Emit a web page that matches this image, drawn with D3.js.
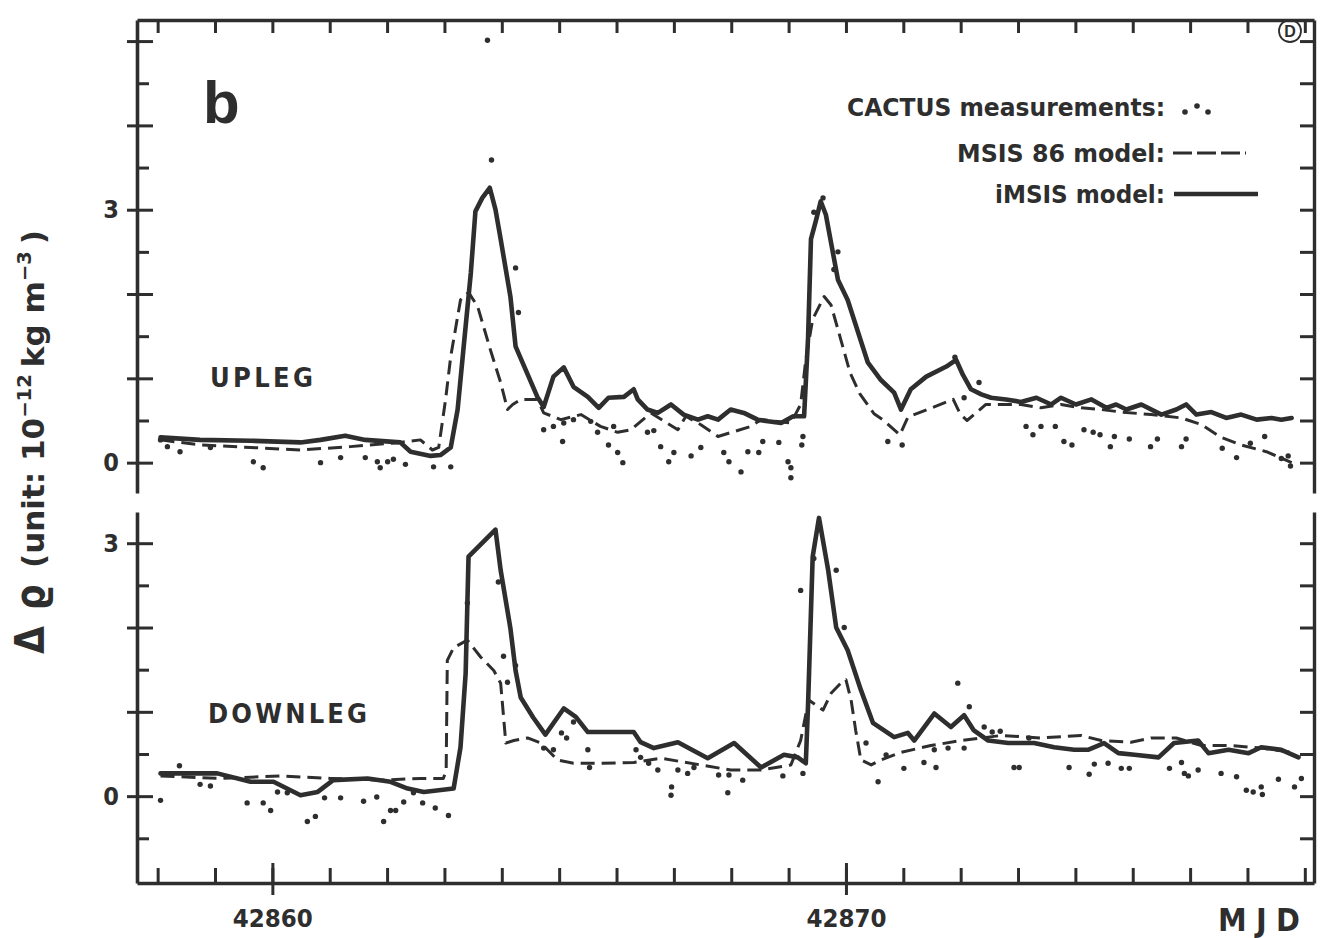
<!DOCTYPE html>
<html>
<head>
<meta charset="utf-8">
<script src="https://cdn.jsdelivr.net/npm/d3@7"></script>
<style>
  html, body { margin: 0; padding: 0; background: #fff; }
  svg { display: block; }
  .cond { font-family: "DejaVu Sans Condensed", "Liberation Sans Narrow", "Roboto Condensed", Roboto, sans-serif; font-stretch: condensed; }
</style>
</head>
<body>
<svg id="chart" width="1324" height="938"></svg>
<script>
// ---- data: density differences (10^-12 kg m^-3) vs. Modified Julian Day ----
const mjdTicks = d3.range(42858, 42879);
const mjdLabels = [42860, 42870];
const uplegTicks = [0, 0.5, 1, 1.5, 2, 2.5, 3, 3.5, 4, 4.5, 5];
const downlegTicks = [-0.5, 0, 0.5, 1, 1.5, 2, 2.5, 3];
const densityLabels = [0, 3];

const uplegIMSIS = [
  [42858.05,0.30],[42858.74,0.27],[42859.62,0.26],[42860.49,0.24],[42860.84,0.27],[42861.27,0.32],
  [42861.62,0.27],[42862.23,0.24],[42862.41,0.13],[42862.76,0.08],[42862.93,0.09],[42863.11,0.18],
  [42863.23,0.63],[42863.33,1.34],[42863.46,2.25],[42863.54,2.98],[42863.66,3.14],[42863.79,3.26],
  [42863.89,3.00],[42863.98,2.65],[42864.15,1.97],[42864.24,1.38],[42864.36,1.19],[42864.62,0.78],
  [42864.73,0.66],[42864.90,1.02],[42865.08,1.13],[42865.25,0.90],[42865.50,0.78],[42865.69,0.65],
  [42865.86,0.77],[42866.13,0.78],[42866.30,0.87],[42866.37,0.75],[42866.54,0.63],[42866.72,0.59],
  [42866.95,0.69],[42867.17,0.57],[42867.42,0.51],[42867.59,0.55],[42867.77,0.51],[42867.99,0.63],
  [42868.22,0.59],[42868.46,0.51],[42868.64,0.49],[42868.87,0.47],[42869.08,0.55],[42869.27,0.55],
  [42869.34,1.49],[42869.39,2.65],[42869.48,2.88],[42869.56,3.10],[42869.65,2.94],[42869.74,2.61],
  [42869.86,2.17],[42870.03,1.93],[42870.38,1.19],[42870.61,0.98],[42870.84,0.83],[42870.96,0.63],
  [42871.13,0.87],[42871.40,1.02],[42871.75,1.14],[42871.92,1.22],[42872.04,1.04],[42872.18,0.87],
  [42872.36,0.81],[42872.53,0.77],[42872.79,0.75],[42873.05,0.72],[42873.32,0.77],[42873.58,0.69],
  [42873.75,0.77],[42874.01,0.69],[42874.28,0.75],[42874.54,0.65],[42874.71,0.69],[42874.89,0.63],
  [42875.15,0.69],[42875.50,0.57],[42875.76,0.63],[42875.93,0.69],[42876.11,0.57],[42876.37,0.60],
  [42876.63,0.53],[42876.89,0.57],[42877.16,0.51],[42877.42,0.53],[42877.59,0.51],[42877.77,0.53]
];

const uplegMSIS86 = [
  [42858.05,0.27],[42858.74,0.21],[42859.62,0.18],[42860.49,0.15],[42861.36,0.19],[42862.23,0.24],
  [42862.58,0.27],[42862.79,0.15],[42862.90,0.18],[42863.02,0.75],[42863.11,1.26],[42863.28,1.93],
  [42863.42,2.02],[42863.58,1.85],[42863.80,1.34],[42863.98,0.95],[42864.10,0.63],[42864.19,0.69],
  [42864.33,0.75],[42864.62,0.75],[42864.73,0.59],[42865.03,0.51],[42865.38,0.57],[42865.72,0.43],
  [42866.02,0.36],[42866.25,0.39],[42866.60,0.59],[42867.07,0.39],[42867.21,0.55],[42867.47,0.45],
  [42867.77,0.31],[42868.34,0.43],[42868.52,0.51],[42869.04,0.47],[42869.21,0.69],[42869.30,1.22],
  [42869.42,1.70],[42869.62,1.97],[42869.74,1.87],[42869.91,1.46],[42870.07,1.07],[42870.24,0.82],
  [42870.49,0.58],[42870.66,0.50],[42870.94,0.33],[42871.08,0.54],[42871.87,0.75],[42871.99,0.58],
  [42872.11,0.50],[42872.44,0.69],[42872.71,0.69],[42873.05,0.69],[42873.40,0.65],[42873.75,0.69],
  [42874.10,0.65],[42874.45,0.63],[42874.80,0.60],[42875.32,0.57],[42875.85,0.53],[42876.20,0.45],
  [42876.54,0.30],[42876.89,0.21],[42877.33,0.13],[42877.77,0.00]
];

const uplegCactus = [
  [42863.75,5.01],[42863.82,3.59],[42864.24,2.31],[42864.29,1.78],[42864.73,0.39],
  [42858.05,0.27],[42858.17,0.19],[42858.39,0.13],[42858.92,0.18],[42859.67,0.01],[42859.84,-0.06],
  [42860.84,0.00],[42861.19,0.06],[42861.62,0.06],[42861.83,0.01],[42861.88,-0.06],[42862.01,0.01],
  [42862.11,0.04],[42862.32,-0.02],[42862.81,-0.05],[42863.11,-0.05],
  [42865.06,0.25],[42864.90,0.43],[42865.08,0.47],[42865.25,0.51],[42865.55,0.49],[42865.67,0.36],
  [42865.86,0.21],[42865.95,0.43],[42866.02,0.12],[42866.11,0.00],[42866.54,0.36],[42866.65,0.38],
  [42866.77,0.19],[42866.91,0.01],[42867.00,0.12],[42867.30,0.08],[42867.47,0.18],[42867.87,0.12],
  [42867.96,0.01],[42868.17,-0.11],[42868.29,0.13],[42868.48,0.12],[42868.55,0.25],[42868.83,0.24],
  [42868.99,0.01],[42869.04,-0.06],[42869.25,0.31],[42869.23,0.21],[42869.04,-0.18],
  [42869.44,2.97],[42869.60,3.14],[42869.86,2.50],[42869.79,2.29],
  [42870.73,0.25],[42870.98,0.21],[42871.90,1.25],[42872.32,0.95],[42872.06,0.77],
  [42873.14,0.43],[42873.40,0.43],[42873.65,0.43],[42873.26,0.33],[42873.80,0.25],[42873.94,0.21],
  [42874.15,0.39],[42874.31,0.36],[42874.43,0.33],[42874.68,0.31],[42874.61,0.19],[42874.94,0.28],
  [42875.31,0.19],[42875.43,0.28],[42875.85,0.19],[42875.93,0.28],[42876.56,0.17],[42876.81,0.06],
  [42877.05,0.23],[42877.30,0.31],[42877.59,0.05],[42877.75,-0.04],[42877.71,0.08]
];

const downlegIMSIS = [
  [42858.05,0.27],[42859.04,0.27],[42859.62,0.17],[42860.02,0.17],[42860.49,0.01],[42860.79,0.05],
  [42861.06,0.19],[42861.66,0.21],[42862.06,0.17],[42862.36,0.09],[42862.64,0.05],[42863.16,0.09],
  [42863.28,0.58],[42863.37,1.46],[42863.40,2.29],[42863.42,2.84],[42863.89,3.16],[42863.98,2.68],
  [42864.15,1.99],[42864.24,1.49],[42864.33,1.17],[42864.55,0.93],[42864.76,0.73],[42865.08,1.04],
  [42865.29,0.94],[42865.50,0.76],[42866.30,0.76],[42866.42,0.64],[42866.65,0.57],[42867.07,0.64],
  [42867.59,0.45],[42868.05,0.63],[42868.52,0.34],[42868.92,0.49],[42869.16,0.46],[42869.30,0.39],
  [42869.34,1.10],[42869.42,2.84],[42869.53,3.30],[42869.69,2.68],[42869.83,2.00],[42870.03,1.73],
  [42870.26,1.26],[42870.47,0.87],[42870.84,0.70],[42871.08,0.75],[42871.19,0.66],[42871.54,0.98],
  [42871.83,0.82],[42872.06,0.96],[42872.23,0.78],[42872.48,0.66],[42872.83,0.63],[42873.28,0.63],
  [42873.63,0.58],[42873.98,0.55],[42874.22,0.55],[42874.50,0.63],[42874.75,0.51],[42875.03,0.49],
  [42875.45,0.46],[42875.72,0.63],[42876.14,0.66],[42876.32,0.51],[42876.67,0.55],[42877.02,0.51],
  [42877.24,0.58],[42877.59,0.55],[42877.89,0.46]
];

const downlegMSIS86 = [
  [42858.05,0.24],[42859.09,0.21],[42860.14,0.24],[42861.01,0.21],[42861.88,0.19],[42862.58,0.21],
  [42862.98,0.21],[42863.03,0.30],[42863.05,1.61],[42863.16,1.76],[42863.40,1.85],[42863.63,1.65],
  [42863.86,1.49],[42863.98,1.34],[42864.07,0.63],[42864.21,0.66],[42864.45,0.69],[42864.68,0.63],
  [42864.97,0.43],[42865.25,0.39],[42865.72,0.39],[42866.30,0.40],[42866.77,0.45],[42867.47,0.37],
  [42867.99,0.31],[42868.52,0.31],[42869.04,0.37],[42869.21,0.66],[42869.35,1.14],[42869.48,1.08],
  [42869.60,1.02],[42869.74,1.22],[42869.91,1.34],[42870.00,1.38],[42870.09,1.14],[42870.17,0.78],
  [42870.26,0.43],[42870.44,0.37],[42870.61,0.43],[42870.96,0.52],[42871.48,0.60],[42872.01,0.66],
  [42872.71,0.72],[42873.40,0.69],[42874.10,0.72],[42874.45,0.66],[42874.97,0.64],[42875.32,0.69],
  [42875.76,0.69],[42876.20,0.60],[42876.72,0.60],[42877.24,0.57],[42877.77,0.52]
];

const downlegCactus = [
  [42858.38,0.36],[42858.05,-0.05],[42858.74,0.14],[42858.92,0.12],[42859.56,-0.08],[42859.84,-0.08],
  [42859.97,-0.17],[42860.09,0.05],[42860.26,0.04],[42860.61,-0.30],[42860.75,-0.24],[42860.91,-0.02],
  [42861.19,-0.02],[42861.59,-0.06],[42861.82,-0.01],[42861.94,-0.30],[42862.06,-0.17],[42862.15,-0.17],
  [42862.29,-0.07],[42862.46,0.04],[42862.62,-0.08],[42862.84,-0.14],[42863.07,-0.23],
  [42863.40,2.29],[42863.94,2.54],[42864.03,1.66],[42864.10,1.35],[42864.24,1.55],
  [42864.73,0.57],[42864.90,0.55],[42865.04,0.75],[42865.13,0.69],[42865.25,0.88],[42865.50,0.55],
  [42865.53,0.34],[42866.34,0.55],[42866.42,0.46],[42866.56,0.39],[42866.72,0.31],[42866.96,0.11],
  [42866.95,0.01],[42867.07,0.31],[42867.24,0.27],[42867.35,0.34],[42867.78,0.25],[42867.96,0.25],
  [42868.20,0.19],[42867.94,0.04],[42868.90,0.24],[42869.25,0.27],
  [42869.21,2.44],[42869.44,2.82],[42869.83,2.68],[42869.97,2.00],
  [42870.35,0.63],[42870.56,0.17],[42870.70,0.49],[42871.01,0.33],[42871.36,0.40],[42871.57,0.34],
  [42871.54,0.55],[42871.78,0.57],[42871.95,1.34],[42872.15,1.06],[42872.06,0.57],[42872.41,0.82],
  [42872.55,0.76],[42872.69,0.77],[42873.19,0.69],[42872.93,0.34],[42873.02,0.34],[42873.89,0.34],
  [42874.24,0.26],[42874.33,0.38],[42874.57,0.39],[42874.80,0.33],[42874.94,0.33],[42875.64,0.33],
  [42875.85,0.40],[42875.90,0.27],[42875.97,0.24],[42876.14,0.31],[42876.54,0.27],[42876.81,0.23],
  [42876.98,0.07],[42877.10,0.05],[42877.24,0.11],[42877.26,0.02],[42877.54,0.20],[42877.82,0.11],
  [42877.94,0.21]
];

// ---- layout ----
const ink = '#2e2e2e';
const svg = d3.select('#chart');
const X0 = 137, X1 = 1314;
const upTop = 20, upBot = 493, loTop = 512, loBot = 883;

const x = d3.scaleLinear().domain([42857.64, 42878.16]).range([X0, X1]);
const yUp = d3.scaleLinear().domain([-0.36, 5.25]).range([upBot, upTop]);
const yLo = d3.scaleLinear().domain([-1.03, 3.37]).range([loBot, loTop]);

function inkAxis(g, domainWidth) {
  g.select('.domain').attr('stroke', ink).attr('stroke-width', domainWidth);
  g.selectAll('.tick line').attr('stroke', ink).attr('stroke-width', 3);
  g.selectAll('.tick text').attr('fill', ink);
}
function noDomain(g) { g.select('.domain').remove(); }

// ---- frame: top and bottom time axes ----
svg.append('g').attr('transform', `translate(0,${upTop})`)
  .call(d3.axisBottom(x).tickValues(mjdTicks).tickSize(13).tickSizeOuter(0).tickFormat(''))
  .call(g => inkAxis(g, 3.4));

svg.append('g').attr('transform', `translate(0,${loBot})`)
  .call(d3.axisTop(x).tickValues(mjdTicks).tickSize(15).tickSizeOuter(0).tickFormat(''))
  .call(g => inkAxis(g, 3.6));

// labelled days: ticks crossing the bottom line
svg.append('g').attr('transform', `translate(0,${loBot})`)
  .call(d3.axisTop(x).tickValues(mjdLabels).tickSize(20).tickFormat(''))
  .call(noDomain).call(g => inkAxis(g, 0));
svg.append('g').attr('transform', `translate(0,${loBot})`)
  .call(d3.axisBottom(x).tickValues(mjdLabels).tickSize(12).tickPadding(11).tickFormat(d3.format('d')))
  .call(noDomain)
  .call(g => inkAxis(g, 0))
  .call(g => g.selectAll('.tick text')
    .attr('class', 'cond').attr('font-size', 25).attr('font-weight', 'bold')
    .attr('textLength', 80).attr('lengthAdjust', 'spacingAndGlyphs').attr('dy', '0.85em'));

// ---- vertical axes for each panel ----
function panelAxes(y, ticks) {
  const majors = ticks.filter(t => Number.isInteger(t));
  const minors = ticks.filter(t => !Number.isInteger(t));
  // left border with inward ticks
  svg.append('g').attr('transform', `translate(${X0},0)`)
    .call(d3.axisRight(y).tickValues(minors).tickSize(12).tickSizeOuter(0).tickFormat(''))
    .call(g => inkAxis(g, 3.6));
  svg.append('g').attr('transform', `translate(${X0},0)`)
    .call(d3.axisRight(y).tickValues(majors).tickSize(16).tickFormat(''))
    .call(noDomain).call(g => inkAxis(g, 0));
  // outward major ticks with labels
  svg.append('g').attr('transform', `translate(${X0},0)`)
    .call(d3.axisLeft(y).tickValues(majors).tickSize(10).tickPadding(8)
      .tickFormat(d => densityLabels.includes(d) ? d : ''))
    .call(noDomain).call(g => inkAxis(g, 0))
    .call(g => g.selectAll('.tick text').attr('class', 'cond')
      .attr('font-size', 25).attr('font-weight', 'bold'));
  // right border with inward ticks
  svg.append('g').attr('transform', `translate(${X1},0)`)
    .call(d3.axisLeft(y).tickValues(ticks).tickSize(14).tickSizeOuter(0).tickFormat(''))
    .call(g => inkAxis(g, 3.4));
}
panelAxes(yUp, uplegTicks);
panelAxes(yLo, downlegTicks);

// ---- series ----
function drawPanel(y, imsis, msis86, cactus) {
  const line = d3.line().x(d => x(d[0])).y(d => y(d[1]));
  svg.append('path').datum(msis86).attr('d', line)
    .attr('fill', 'none').attr('stroke', ink).attr('stroke-width', 3)
    .attr('stroke-dasharray', '14,7').attr('stroke-linejoin', 'round');
  svg.append('path').datum(imsis).attr('d', line)
    .attr('fill', 'none').attr('stroke', ink).attr('stroke-width', 4.6)
    .attr('stroke-linejoin', 'round').attr('stroke-linecap', 'round');
  svg.append('g').selectAll('circle').data(cactus).join('circle')
    .attr('cx', d => x(d[0])).attr('cy', d => y(d[1])).attr('r', 2.7).attr('fill', ink);
}
drawPanel(yUp, uplegIMSIS, uplegMSIS86, uplegCactus);
drawPanel(yLo, downlegIMSIS, downlegMSIS86, downlegCactus);

// ---- annotations ----
svg.append('text').attr('x', 203).attr('y', 123)
  .attr('font-family', '"Liberation Sans", Arial, sans-serif').attr('font-weight', 'bold')
  .attr('font-size', 60).attr('fill', ink).text('b');

svg.append('text').attr('class', 'cond').attr('x', 210).attr('y', 387)
  .attr('font-size', 27).attr('font-weight', 'bold').attr('fill', ink)
  .attr('textLength', 103).attr('lengthAdjust', 'spacing').text('UPLEG');
svg.append('text').attr('class', 'cond').attr('x', 208).attr('y', 723)
  .attr('font-size', 27).attr('font-weight', 'bold').attr('fill', ink)
  .attr('textLength', 159).attr('lengthAdjust', 'spacing').text('DOWNLEG');

svg.append('text').attr('class', 'cond').attr('x', 1218).attr('y', 931)
  .attr('font-size', 32).attr('font-weight', 'bold').attr('fill', ink)
  .attr('textLength', 82).attr('lengthAdjust', 'spacing').text('MJD');

// circled D mark
svg.append('circle').attr('cx', 1290).attr('cy', 31).attr('r', 11)
  .attr('fill', 'none').attr('stroke', ink).attr('stroke-width', 1.8);
svg.append('text').attr('x', 1290).attr('y', 37).attr('text-anchor', 'middle')
  .attr('font-family', '"Liberation Sans", Arial, sans-serif').attr('font-weight', 'bold')
  .attr('font-size', 16).attr('fill', ink).text('D');

// ---- legend ----
const legend = [
  { label: 'CACTUS measurements:', x0: 847, y: 116 },
  { label: 'MSIS 86  model:', x0: 957, y: 162 },
  { label: 'iMSIS model:', x0: 995, y: 203 }
];
const legendEnd = 1165;
legend.forEach(l => {
  svg.append('text').attr('class', 'cond').attr('x', l.x0).attr('y', l.y)
    .attr('font-size', 24).attr('font-weight', 'bold').attr('fill', ink)
    .attr('textLength', legendEnd - l.x0).attr('lengthAdjust', 'spacingAndGlyphs')
    .text(l.label);
});
svg.append('g').selectAll('circle').data([[1185, 112], [1197, 106], [1208, 112]]).join('circle')
  .attr('cx', d => d[0]).attr('cy', d => d[1]).attr('r', 2.8).attr('fill', ink);
svg.append('line').attr('x1', 1173).attr('x2', 1246).attr('y1', 153).attr('y2', 153)
  .attr('stroke', ink).attr('stroke-width', 3.2).attr('stroke-dasharray', '19,5');
svg.append('line').attr('x1', 1174).attr('x2', 1258).attr('y1', 194).attr('y2', 194)
  .attr('stroke', ink).attr('stroke-width', 4.6);

// ---- y axis title ----
const sym = svg.append('text').attr('class', 'cond')
  .attr('transform', 'translate(44,654) rotate(-90)').attr('fill', ink).attr('font-weight', 600)
  .attr('font-size', 40);
sym.append('tspan').text('Δ');
sym.append('tspan').attr('dx', 16).text('ϱ');
const unit = svg.append('text').attr('class', 'cond')
  .attr('transform', 'translate(44,568) rotate(-90)').attr('fill', ink).attr('font-weight', 600)
  .attr('textLength', 338).attr('lengthAdjust', 'spacingAndGlyphs');
unit.append('tspan').attr('font-size', 30).text('(unit: 10');
unit.append('tspan').attr('font-size', 19).attr('dy', -13).text('−12');
unit.append('tspan').attr('font-size', 30).attr('dy', 13).attr('dx', 6).text('kg m');
unit.append('tspan').attr('font-size', 19).attr('dy', -13).text('−3');
unit.append('tspan').attr('font-size', 30).attr('dy', 13).attr('dx', 6).text(')');
</script>
</body>
</html>
